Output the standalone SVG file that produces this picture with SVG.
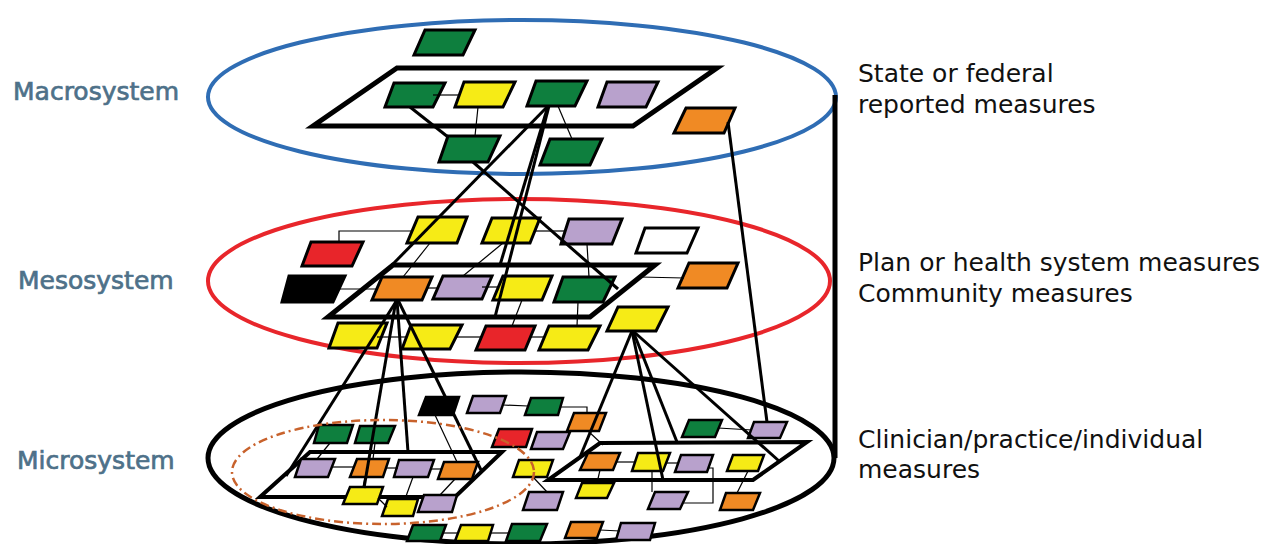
<svg xmlns="http://www.w3.org/2000/svg" width="1276" height="544" viewBox="0 0 1276 544">
<style>
.g{fill:#0e7f3e}.y{fill:#f6eb16}.p{fill:#b8a1cc}.o{fill:#f08a24}.r{fill:#e8252a}.k{fill:#000}.w{fill:#fff}
.box{stroke:#000;stroke-width:3;stroke-linejoin:miter}
.sm{stroke-width:2.5}
.plat{fill:none;stroke:#000;stroke-width:5;stroke-linejoin:miter}
.thick{stroke:#000;stroke-width:3;fill:none}
.thin{stroke:#000;stroke-width:1.2;fill:none}
.lvl{font-family:"DejaVu Sans",sans-serif;font-size:25px;fill:#4e7189;stroke:#4e7189;stroke-width:0.7}
.desc{font-family:"DejaVu Sans",sans-serif;font-size:25px;fill:#111}
</style>
<rect width="1276" height="544" fill="#fff"/>
<g id="layers">
<ellipse id="macro-ring" cx="522" cy="97" rx="314" ry="77" fill="none" stroke="#2f6db4" stroke-width="4"/>
<ellipse id="meso-ring" cx="519" cy="281" rx="311" ry="82" fill="none" stroke="#e8262b" stroke-width="4"/>
<ellipse id="micro-ring" cx="521" cy="458" rx="313" ry="86" fill="none" stroke="#000" stroke-width="5"/>
<line x1="835" y1="95" x2="835" y2="458" stroke="#000" stroke-width="5"/>
</g>
<g id="platforms">
<polygon id="macro-platform" class="plat" points="397,68 717,68 633,126 313,126"/>
<polygon id="meso-platform" class="plat" points="393,265 655,265 590,317 328,317"/>
<polygon id="micro-platform-1" class="plat" style="stroke-width:4" points="310,452 502,452 455,497 260,497"/>
<polygon id="micro-platform-2" class="plat" style="stroke-width:4" points="600,443 807,442 753,480 548,480"/>
</g>
<g id="macro-nodes">
<g id="M1"><polygon class="box g" points="425,30 475,30 463,55 414,55"/></g>
<g id="M2"><polygon class="box g" points="394,83 445,83 433,107 385,107"/></g>
<g id="M3"><polygon class="box y" points="464,82 515,82 503,107 455,107"/></g>
<g id="M4"><polygon class="box g" points="536,81 587,81 575,106 527,106"/></g>
<g id="M5"><polygon class="box p" points="607,82 658,82 646,107 598,107"/></g>
<g id="M6"><polygon class="box g" points="448,136 500,136 488,162 439,162"/></g>
<g id="M7"><polygon class="box g" points="550,139 602,139 590,165 540,165"/></g>
<g id="M8"><polygon class="box o" points="686,108 735,108 724,133 674,133"/></g>
</g>
<g id="meso-nodes">
<g id="E1"><polygon class="box y" points="418,217 467,217 457,243 407,243"/></g>
<g id="E2"><polygon class="box y" points="492,218 540,218 530,243 482,243"/></g>
<g id="E3"><polygon class="box p" points="569,219 622,219 612,244 561,244"/></g>
<g id="E4"><polygon class="box w" points="645,228 698,228 687,253 636,253"/></g>
<g id="E5"><polygon class="box r" points="311,242 363,242 352,266 302,266"/></g>
<g id="E6"><polygon class="box k" points="289,276 345,276 333,302 282,302"/></g>
<g id="E7"><polygon class="box o" points="382,277 432,277 422,300 372,300"/></g>
<g id="E8"><polygon class="box p" points="443,276 492,276 482,299 433,299"/></g>
<g id="E9"><polygon class="box y" points="503,276 552,276 542,300 493,300"/></g>
<g id="E10"><polygon class="box g" points="563,277 615,277 603,302 554,302"/></g>
<g id="E11"><polygon class="box o" points="689,263 738,263 727,288 678,288"/></g>
<g id="E12"><polygon class="box y" points="338,323 387,323 377,348 329,348"/></g>
<g id="E13"><polygon class="box y" points="411,325 462,325 450,349 402,349"/></g>
<g id="E14"><polygon class="box r" points="486,326 535,326 525,350 476,350"/></g>
<g id="E15"><polygon class="box y" points="549,326 600,326 588,350 539,350"/></g>
<g id="E16"><polygon class="box y" points="618,307 668,307 656,331 607,331"/></g>
</g>
<g id="micro-nodes">
<g id="I1"><polygon class="box sm k" points="426,397 459,397 453,415 419,415"/></g>
<g id="I2"><polygon class="box sm p" points="473,396 506,396 500,413 467,413"/></g>
<g id="I3"><polygon class="box sm g" points="531,398 563,398 558,415 525,415"/></g>
<g id="I4"><polygon class="box sm o" points="574,413 606,413 599,431 567,431"/></g>
<g id="I5"><polygon class="box sm g" points="319,425 353,425 347,443 314,443"/></g>
<g id="I6"><polygon class="box sm g" points="360,426 395,426 388,443 355,443"/></g>
<g id="I7"><polygon class="box sm r" points="499,429 532,429 526,447 492,447"/></g>
<g id="I8"><polygon class="box sm p" points="537,432 570,432 563,449 531,449"/></g>
<g id="I9"><polygon class="box sm p" points="301,459 335,459 328,477 295,477"/></g>
<g id="I10"><polygon class="box sm o" points="357,459 389,459 383,477 350,477"/></g>
<g id="I11"><polygon class="box sm p" points="399,460 434,460 428,477 394,477"/></g>
<g id="I12"><polygon class="box sm o" points="444,462 478,462 472,479 438,479"/></g>
<g id="I13"><polygon class="box sm y" points="519,460 553,460 547,477 513,477"/></g>
<g id="I14"><polygon class="box sm y" points="350,487 383,487 377,504 343,504"/></g>
<g id="I15"><polygon class="box sm y" points="388,499 418,499 413,516 382,516"/></g>
<g id="I16"><polygon class="box sm p" points="424,495 457,495 452,512 418,512"/></g>
<g id="I17"><polygon class="box sm p" points="529,492 563,492 557,510 523,510"/></g>
<g id="I18"><polygon class="box sm g" points="413,525 446,525 440,541 407,541"/></g>
<g id="I19"><polygon class="box sm y" points="461,525 493,525 488,541 455,541"/></g>
<g id="I20"><polygon class="box sm g" points="512,524 547,524 540,541 506,541"/></g>
<g id="I21"><polygon class="box sm o" points="571,522 603,522 597,538 565,538"/></g>
<g id="I22"><polygon class="box sm p" points="621,523 655,523 650,540 616,540"/></g>
<g id="I23"><polygon class="box sm o" points="588,453 620,453 613,470 580,470"/></g>
<g id="I24"><polygon class="box sm y" points="638,453 670,453 663,471 632,471"/></g>
<g id="I25"><polygon class="box sm p" points="681,455 713,455 707,472 675,472"/></g>
<g id="I26"><polygon class="box sm y" points="733,455 764,455 758,471 727,471"/></g>
<g id="I27"><polygon class="box sm g" points="689,420 722,420 715,437 682,437"/></g>
<g id="I28"><polygon class="box sm p" points="754,422 787,422 780,438 748,438"/></g>
<g id="I29"><polygon class="box sm y" points="582,483 614,483 607,498 576,498"/></g>
<g id="I30"><polygon class="box sm p" points="655,492 688,492 680,509 648,509"/></g>
<g id="I31"><polygon class="box sm o" points="726,493 760,493 753,510 720,510"/></g>
</g>
<g id="connectors">
<g class="thick">
<line x1="410" y1="107" x2="448" y2="137"/>
<line x1="473" y1="162" x2="618" y2="289"/>
<line x1="548" y1="106" x2="392" y2="265"/>
<line x1="548" y1="106" x2="500" y2="265"/>
<line x1="549" y1="106" x2="495" y2="317"/>
<line x1="728" y1="122" x2="767" y2="422"/>
<line x1="397" y1="300" x2="286" y2="476"/>
<line x1="396" y1="300" x2="364" y2="488"/>
<line x1="397" y1="300" x2="408" y2="452"/>
<line x1="398" y1="300" x2="481" y2="470"/>
<line x1="632" y1="331" x2="580" y2="457"/>
<line x1="632" y1="331" x2="663" y2="480"/>
<line x1="633" y1="331" x2="677" y2="442"/>
<line x1="633" y1="331" x2="779" y2="461"/>
</g>
<g class="thin">
<line x1="478" y1="107" x2="475" y2="136"/>
<line x1="558" y1="106" x2="572" y2="139"/>
<line x1="433" y1="95" x2="459" y2="95"/>
<polyline points="339,242 339,231 413,231"/>
<line x1="335" y1="289" x2="376" y2="289"/>
<line x1="430" y1="243" x2="403" y2="277"/>
<line x1="503" y1="243" x2="463" y2="276"/>
<line x1="536" y1="231" x2="566" y2="231"/>
<line x1="587" y1="244" x2="589" y2="277"/>
<line x1="427" y1="288" x2="438" y2="288"/>
<line x1="482" y1="287" x2="498" y2="287"/>
<line x1="522" y1="300" x2="512" y2="326"/>
<line x1="578" y1="302" x2="577" y2="326"/>
<line x1="377" y1="337" x2="407" y2="337"/>
<line x1="456" y1="337" x2="481" y2="337"/>
<line x1="531" y1="337" x2="544" y2="337"/>
<line x1="640" y1="277" x2="684" y2="278"/>
<line x1="330" y1="443" x2="317" y2="459"/>
<line x1="375" y1="443" x2="373" y2="459"/>
<line x1="332" y1="467" x2="354" y2="467"/>
<line x1="386" y1="468" x2="398" y2="468"/>
<line x1="431" y1="469" x2="442" y2="469"/>
<line x1="365" y1="477" x2="363" y2="487"/>
<line x1="378" y1="498" x2="387" y2="507"/>
<line x1="413" y1="477" x2="405" y2="499"/>
<line x1="455" y1="479" x2="440" y2="495"/>
<line x1="435" y1="415" x2="457" y2="462"/>
<line x1="503" y1="405" x2="528" y2="406"/>
<polyline points="561,407 587,407 587,413"/>
<line x1="588" y1="431" x2="603" y2="445"/>
<line x1="533" y1="477" x2="547" y2="492"/>
<line x1="443" y1="533" x2="459" y2="533"/>
<line x1="491" y1="533" x2="510" y2="533"/>
<line x1="600" y1="530" x2="620" y2="531"/>
<line x1="617" y1="462" x2="636" y2="462"/>
<line x1="667" y1="463" x2="679" y2="463"/>
<line x1="600" y1="470" x2="597" y2="483"/>
<line x1="652" y1="471" x2="652" y2="492"/>
<polyline points="708,468 713,468 713,503 684,503"/>
<line x1="748" y1="471" x2="737" y2="493"/>
<line x1="718" y1="428" x2="752" y2="430"/>
</g>
</g>
<ellipse id="practice-group" cx="383" cy="472" rx="151" ry="52" fill="none" stroke="#c8622c" stroke-width="2.5" stroke-dasharray="9 4 2 4"/>
<g id="labels">
<text class="lvl" x="13" y="100">Macrosystem</text>
<text class="lvl" x="18" y="289">Mesosystem</text>
<text class="lvl" x="17" y="469">Microsystem</text>
<text class="desc" x="858" y="82">State or federal</text>
<text class="desc" x="858" y="113">reported measures</text>
<text class="desc" x="858" y="271">Plan or health system measures</text>
<text class="desc" x="858" y="302">Community measures</text>
<text class="desc" x="858" y="448">Clinician/practice/individual</text>
<text class="desc" x="858" y="478">measures</text>
</g>
</svg>
